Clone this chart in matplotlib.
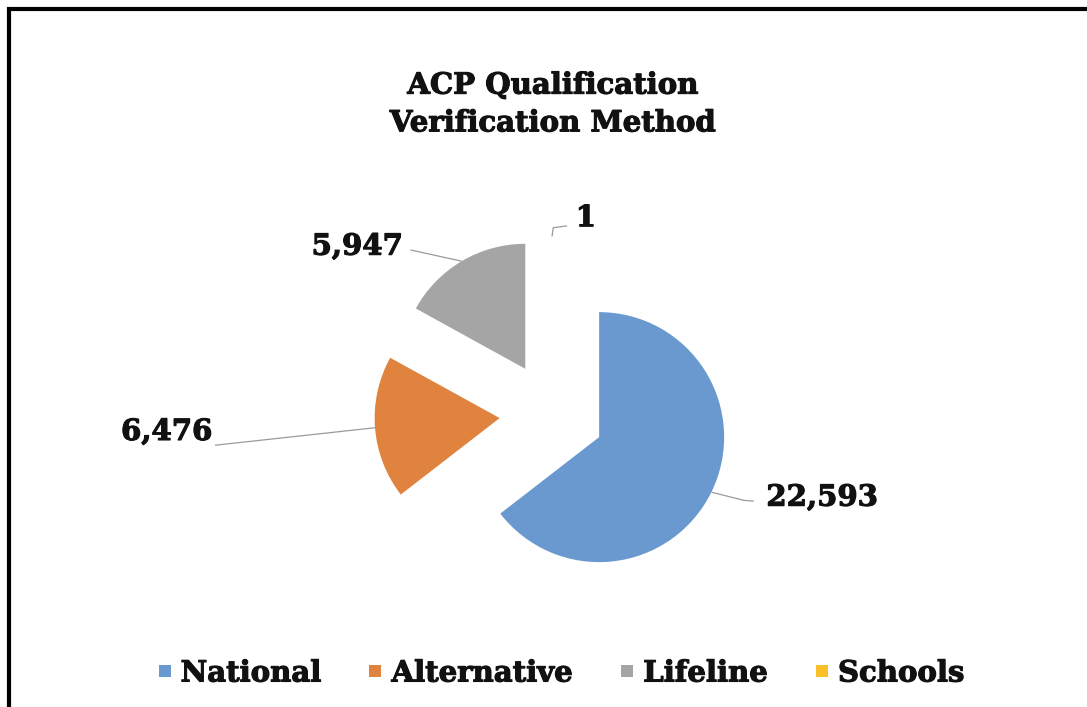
import matplotlib.pyplot as plt
import matplotlib.patheffects as pe
import numpy as np
from matplotlib.lines import Line2D
from matplotlib.patches import Rectangle

categories = ["National", "Alternative", "Lifeline", "Schools"]
counts = [22593, 6476, 5947, 1]
colors = ["#6999CF", "#E0833F", "#A5A5A5", "#F9C02A"]
title = "ACP Qualification\nVerification Method"

W, H, DPI = 1087, 707, 100
CX, CY = 552, 414      # pie centre in px (from top-left)
R = 125                # pie radius in px
EXPLODE = 0.42

# leader points and text anchor relative to the wedge's outer edge, in radius units
leaders = [
    [(0.0, 0.0), (0.26, -0.065), (0.34, -0.072)],
    [(0.0, 0.0), (-1.28, -0.14)],
    [(0.0, 0.0), (-0.41, 0.09)],
    [(0.0, 0.0), (0.01, 0.07), (0.12, 0.085)],
]
text_anchor = [(0.44, -0.04, "left"), (-1.30, -0.03, "right"),
               (-0.47, 0.12, "right"), (0.19, 0.15, "left")]

FONT = "DejaVu Serif"
FS = 21
INK = "#111111"
heavy = [pe.withStroke(linewidth=0.8, foreground=INK)]
plt.rcParams["font.family"] = FONT

fig = plt.figure(figsize=(W / DPI, H / DPI), dpi=DPI)
ax = fig.add_axes([0, 0, 1, 1])

wedges, _ = ax.pie(counts, colors=colors, startangle=90, counterclock=False,
                   explode=[EXPLODE] * len(counts), radius=1.0,
                   wedgeprops={"linewidth": 0})
ax.set_xlim(-CX / R, (W - CX) / R)
ax.set_ylim(-(H - CY) / R, CY / R)
ax.set_aspect("auto")
ax.axis("off")

for w, n, pts, (tx, ty, ha) in zip(wedges, counts, leaders, text_anchor):
    mid = np.deg2rad((w.theta1 + w.theta2) / 2)
    ex = w.center[0] + w.r * np.cos(mid)
    ey = w.center[1] + w.r * np.sin(mid)
    xs = [ex + p[0] for p in pts]
    ys = [ey + p[1] for p in pts]
    ax.plot(xs, ys, color="#9a9a9a", lw=0.9, solid_capstyle="butt")
    ax.text(ex + tx, ey + ty, f"{n:,}", ha=ha, va="center", fontsize=FS,
            fontweight="bold", color=INK, path_effects=heavy)

fig.text(553 / W, 1 - 104 / H, title, ha="center", va="center", fontsize=FS,
         fontweight="bold", color=INK, linespacing=1.38, path_effects=heavy)

handles = [Line2D([], [], marker="s", linestyle="none", markersize=8,
                  markerfacecolor=c, markeredgewidth=0) for c in colors]
leg = fig.legend(handles, categories, loc="center", bbox_to_anchor=(560 / W, 1 - 673 / H),
                 ncol=4, frameon=False, handlelength=0.6, handletextpad=0.25,
                 columnspacing=1.55, prop={"family": FONT, "weight": "bold", "size": FS})
for t in leg.get_texts():
    t.set_color(INK)
    t.set_path_effects(heavy)

# outer frame (left and top edges visible, the rest is cropped away)
fig.patches.append(Rectangle((9 / W, -0.1), 1.2, 1 - 9 / H + 0.1, transform=fig.transFigure,
                             fill=False, edgecolor="black", linewidth=3))

fig.savefig("out.png", dpi=DPI)
